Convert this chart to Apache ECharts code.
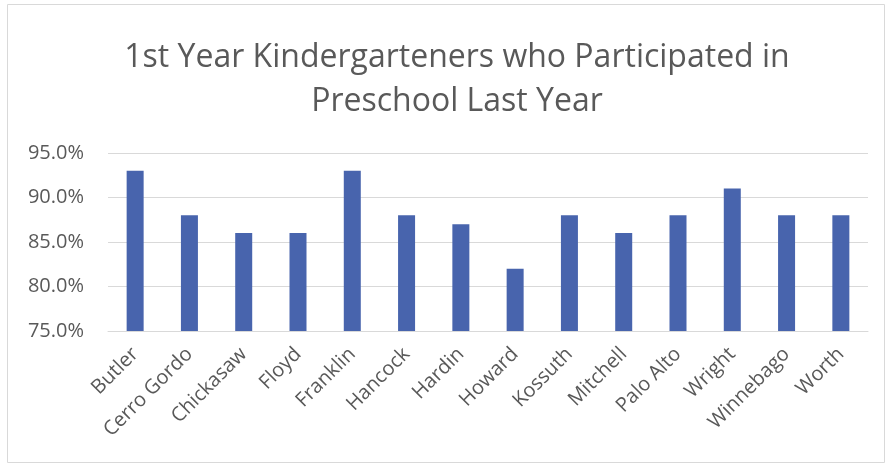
<!DOCTYPE html>
<html>
<head>
<meta charset="utf-8">
<script src="https://cdn.jsdelivr.net/npm/echarts@6/dist/echarts.min.js"></script>
<style>
  html, body { margin: 0; padding: 0; background: #fff; }
  #chart { width: 887px; height: 466px; }
</style>
</head>
<body>
<div id="chart"></div>
<script>
// counties and share of kindergarteners with preschool (%)
var categories = ['Butler', 'Cerro Gordo', 'Chickasaw', 'Floyd', 'Franklin', 'Hancock', 'Hardin',
  'Howard', 'Kossuth', 'Mitchell', 'Palo Alto', 'Wright', 'Winnebago', 'Worth'];
var values = [93, 88, 86, 86, 93, 88, 87, 82, 88, 86, 88, 91, 88, 88];
var yTicks = [75, 80, 85, 90, 95];

var myechart = echarts.init(document.getElementById('chart'));
var option = {
  animation: false,
  title: {
    text: '1st Year Kindergarteners who Participated in\nPreschool Last Year',
    left: 452,
    top: 31,
    textAlign: 'center',
    textStyle: {
      color: '#595959',
      fontFamily: 'Open Sans',
      fontWeight: 'normal',
      fontSize: 32,
      lineHeight: 44,
    },
  },
  graphic: [
    {
      // chart area border
      type: 'rect',
      shape: { x: 7.5, y: 4.5, width: 877, height: 458 },
      style: { fill: 'none', stroke: '#d9d9d9', lineWidth: 1 },
    },
  ],
  grid: {
    left: 108,
    right: 19,
    top: 153,
    bottom: 135,
  },
  xAxis: {
    type: 'category',
    data: categories,
    axisTick: { show: false },
    axisLine: { lineStyle: { color: '#d9d9d9', width: 1 } },
    axisLabel: {
      rotate: 45,
      interval: 0,
      color: '#595959',
      fontFamily: 'Open Sans',
      fontSize: 20,
      margin: 20,
    },
  },
  yAxis: {
    type: 'value',
    min: yTicks[0],
    max: yTicks[yTicks.length - 1],
    interval: 5,
    axisLine: { show: false },
    axisTick: { show: false },
    splitLine: { lineStyle: { color: '#d9d9d9', width: 1 } },
    axisLabel: {
      color: '#595959',
      fontFamily: 'Open Sans',
      fontSize: 20,
      margin: 24,
      formatter: function (v) { return v.toFixed(1) + '%'; },
    },
  },
  series: [
    {
      type: 'bar',
      data: values,
      barWidth: 17,
      itemStyle: { color: '#4864ad' },
    },
  ],
};
myechart.setOption(option);
</script>
</body>
</html>
